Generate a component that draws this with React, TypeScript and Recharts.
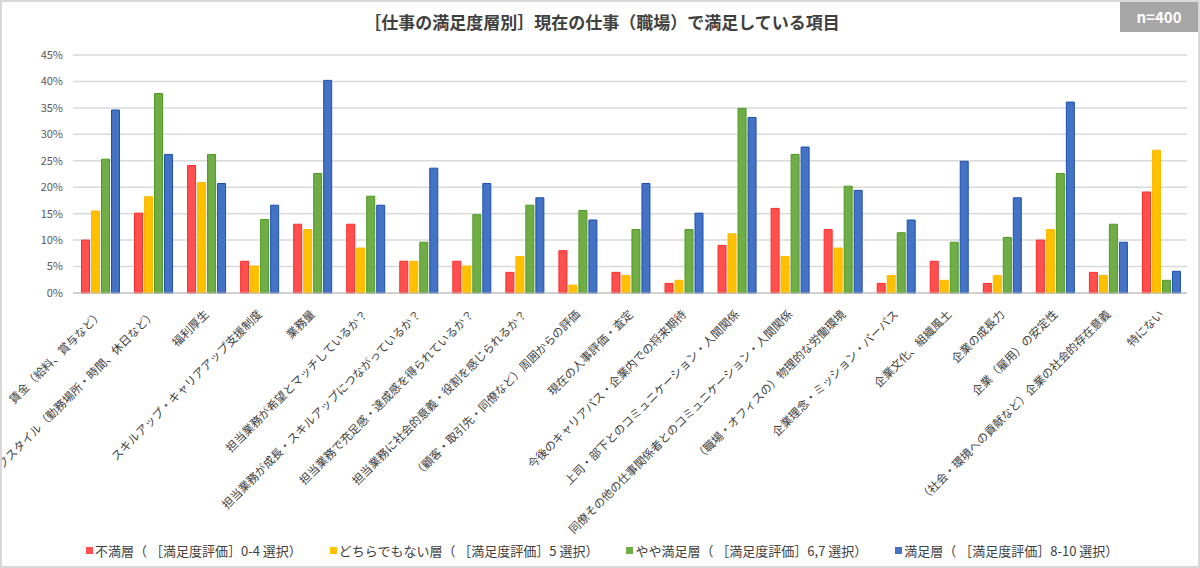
import { Bar, BarChart, CartesianGrid, XAxis, YAxis } from "recharts";

const FONT = '"Noto Sans CJK JP", "Noto Sans", sans-serif';
const TEXT = "#404040";
const AXIS_TICK = "#595959";
const GRID_STROKE = "#d9d9d9";

const categories = [
  "賃金（給料、賞与など）",
  "ワークスタイル（勤務場所・時間、休日など）",
  "福利厚生",
  "スキルアップ・キャリアアップ支援制度",
  "業務量",
  "担当業務が希望とマッチしているか？",
  "担当業務が成長・スキルアップにつながっているか？",
  "担当業務で充足感・達成感を得られているか？",
  "担当業務に社会的意義・役割を感じられるか？",
  "（顧客・取引先・同僚など）周囲からの評価",
  "現在の人事評価・査定",
  "今後のキャリアパス・企業内での将来期待",
  "上司・部下とのコミュニケーション・人間関係",
  "同僚その他の仕事関係者とのコミュニケーション・人間関係",
  "（職場・オフィスの）物理的な労働環境",
  "企業理念・ミッション・パーパス",
  "企業文化、組織風土",
  "企業の成長力",
  "企業（雇用）の安定性",
  "（社会・環境への貢献など）企業の社会的存在意義",
  "特にない",
];

const unsatisfied = [10.0, 15.1, 24.1, 6.0, 13.0, 13.0, 6.0, 6.0, 3.9, 8.0, 3.9, 1.8, 9.0, 16.0, 12.0, 1.8, 6.0, 1.8, 10.0, 3.9, 19.1];
const neutral = [15.5, 18.2, 20.9, 5.1, 12.0, 8.5, 6.0, 5.1, 6.9, 1.5, 3.3, 2.4, 11.2, 6.9, 8.5, 3.3, 2.4, 3.3, 12.0, 3.3, 27.0];
const somewhat = [25.3, 37.7, 26.2, 13.9, 22.6, 18.3, 9.6, 14.8, 16.6, 15.6, 12.0, 12.0, 34.9, 26.2, 20.2, 11.4, 9.6, 10.5, 22.6, 13.0, 2.4];
const satisfied = [34.6, 26.2, 20.7, 16.6, 40.2, 16.6, 23.6, 20.7, 18.0, 13.8, 20.7, 15.1, 33.2, 27.6, 19.4, 13.8, 24.9, 18.0, 36.1, 9.6, 4.1];

const yTicks = [0, 5, 10, 15, 20, 25, 30, 35, 40, 45];

const series = [
  { key: "unsatisfied", name: "不満層（ ［満足度評価］0-4 選択）", fill: "#ff5050", stroke: "#ff2a2a" },
  { key: "neutral", name: "どちらでもない層（ ［満足度評価］5 選択）", fill: "#ffc000", stroke: "#ffb800" },
  { key: "somewhat", name: "やや満足層（ ［満足度評価］6,7 選択）", fill: "#70ad47", stroke: "#4e9a22" },
  { key: "satisfied", name: "満足層（ ［満足度評価］8-10 選択）", fill: "#4472c4", stroke: "#1f4fb0" },
];

const data = categories.map((name, i) => ({
  name,
  unsatisfied: unsatisfied[i],
  neutral: neutral[i],
  somewhat: somewhat[i],
  satisfied: satisfied[i],
}));

function CategoryTick(props: any) {
  const { x, y, payload } = props;
  return (
    <text
      x={x + 4}
      y={y + 14}
      transform={`rotate(-45, ${x + 4}, ${y + 14})`}
      textAnchor="end"
      fill={TEXT}
      fontSize={11.5}
      fontFamily={FONT}
    >
      {payload.value}
    </text>
  );
}

export default function App() {
  return (
    <div
      style={{
        position: "absolute",
        top: 0,
        left: 0,
        width: 1200,
        height: 568,
        boxSizing: "border-box",
        border: "2px solid #d9d9d9",
        background: "#fff",
        fontFamily: FONT,
        overflow: "hidden",
      }}
    >
      <div
        style={{
          position: "absolute",
          top: 7,
          left: 0,
          width: 1200,
          textAlign: "center",
          fontSize: 17,
          fontWeight: 700,
          color: TEXT,
        }}
      >
        ［仕事の満足度層別］現在の仕事（職場）で満足している項目
      </div>
      <div
        style={{
          position: "absolute",
          top: 0,
          right: 0,
          width: 78,
          height: 30,
          background: "#a6a6a6",
          color: "#fff",
          fontSize: 15,
          fontWeight: 700,
          lineHeight: "30px",
          textAlign: "center",
        }}
      >
        n=400
      </div>

      <div style={{ position: "absolute", top: -2, left: -2 }}>
        <BarChart
          width={1200}
          height={568}
          data={data}
          margin={{ top: 55, right: 13, left: 0, bottom: 35 }}
          barGap={2}
          barCategoryGap="16%"
        >
          <CartesianGrid stroke={GRID_STROKE} strokeWidth={1.5} vertical={false} />
          <XAxis
            dataKey="name"
            interval={0}
            height={240}
            tick={<CategoryTick />}
            tickLine={false}
            axisLine={{ stroke: "#bfbfbf" }}
          />
          <YAxis
            width={73}
            domain={[0, 45]}
            ticks={yTicks}
            tickFormatter={(v: number) => `${v}%`}
            tick={{ fill: AXIS_TICK, fontSize: 11, fontFamily: FONT }}
            tickLine={false}
            axisLine={false}
            tickSize={0}
            tickMargin={10}
          />
          {series.map((s) => (
            <Bar
              key={s.key}
              dataKey={s.key}
              name={s.name}
              fill={s.fill}
              stroke={s.stroke}
              strokeWidth={1}
              isAnimationActive={false}
            />
          ))}
        </BarChart>
      </div>

      <div
        style={{
          position: "absolute",
          top: 539,
          left: 84,
          display: "flex",
          gap: 28,
          fontSize: 13,
          color: TEXT,
          whiteSpace: "nowrap",
        }}
      >
        {series.map((s) => (
          <div key={s.key} style={{ display: "flex", alignItems: "center" }}>
            <span style={{ width: 7, height: 7, background: s.fill, display: "inline-block", marginRight: 2 }} />
            {s.name}
          </div>
        ))}
      </div>
    </div>
  );
}
